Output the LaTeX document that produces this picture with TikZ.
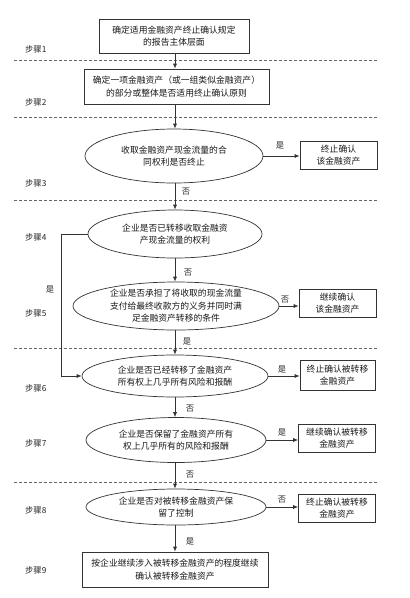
\documentclass[tikz,border=0pt]{standalone}
\usepackage{fontspec}
\setmainfont{Noto Sans CJK SC}
\usetikzlibrary{shapes.geometric,arrows.meta}
\begin{document}
\begin{tikzpicture}[x=1pt,y=-1pt,
  txt/.style={font=\fontsize{8.8}{12.5}\selectfont, text=black!90, align=center},
  sbox/.style={txt, draw=black!80, line width=0.7pt, inner sep=0pt},
  ell/.style={txt, draw=black!80, line width=0.7pt, ellipse, inner sep=0pt},
  rbox/.style={sbox, minimum width=77pt, minimum height=28pt},
  steplbl/.style={font=\fontsize{8.3}{10}\selectfont, text=black!85, anchor=west, inner sep=0pt},
  sep/.style={dashed, draw=black!60, line width=0.6pt, dash pattern=on 3pt off 2pt},
  arr/.style={draw=black!80, line width=0.7pt, -{Latex[length=5pt,width=4pt]}},
  yn/.style={font=\fontsize{8.3}{10}\selectfont, text=black!85, inner sep=1pt}]
\useasboundingbox (0,0) rectangle (410,598);
\fill[white] (0,0) rectangle (410,598);

% separators
\foreach \yy in {60,117,200,348,482} \draw[sep] (14,\yy) -- (377,\yy);

% step labels
\node[steplbl] (s1) at (25,49) {步骤1};
\node[steplbl] (s2) at (25,102) {步骤2};
\node[steplbl] (s3) at (25,183) {步骤3};
\node[steplbl] (s4) at (25,237) {步骤4};
\node[steplbl] (s5) at (25,313) {步骤5};
\node[steplbl] (s6) at (25,388) {步骤6};
\node[steplbl] (s7) at (25,443) {步骤7};
\node[steplbl] (s8) at (25,510) {步骤8};
\node[steplbl] (s9) at (25,570) {步骤9};

% main column
\node[sbox, minimum width=150pt, minimum height=34pt] (b1) at (174,36) {确定适用金融资产终止确认规定\\的报告主体层面};
\node[sbox, minimum width=185pt, minimum height=35pt] (b2) at (176.5,86.5) {确定一项金融资产（或一组类似金融资产）\\的部分或整体是否适用终止确认原则};
\node[ell, minimum width=178pt, minimum height=54pt] (e3) at (174,156) {收取金融资产现金流量的合\\同权利是否终止};
\node[ell, minimum width=174pt, minimum height=48pt] (e4) at (175,234) {企业是否已转移收取金融资\\产现金流量的权利};
\node[ell, minimum width=206pt, minimum height=48pt] (e5) at (176,306) {企业是否承担了将收取的现金流量\\支付给最终收款方的义务并同时满\\足金融资产转移的条件};
\node[ell, minimum width=186pt, minimum height=42pt] (e6) at (175,376) {企业是否已经转移了金融资产\\所有权上几乎所有风险和报酬};
\node[ell, minimum width=180pt, minimum height=45pt] (e7) at (176,440) {企业是否保留了金融资产所有\\权上几乎所有的风险和报酬};
\node[ell, minimum width=180pt, minimum height=36pt] (e8) at (176,507) {企业是否对被转移金融资产保\\留了控制};
\node[sbox, minimum width=186pt, minimum height=35pt] (b9) at (175,569.5) {按企业继续涉入被转移金融资产的程度继续\\确认被转移金融资产};

% right boxes
\node[rbox] (r3) at (338.5,155) {终止确认\\该金融资产};
\node[rbox] (r5) at (337.5,303) {继续确认\\该金融资产};
\node[rbox, minimum width=75pt, minimum height=30pt] (r6) at (337.5,375) {终止确认被转移\\金融资产};
\node[rbox] (r7) at (337,438) {继续确认被转移\\金融资产};
\node[rbox] (r8) at (337,508) {终止确认被转移\\金融资产};

% vertical connectors
\coordinate (cx) at (175,0);
\draw[arr] (b1.south -| cx) -- (b2.north -| cx);
\draw[arr] (b2.south -| cx) -- (e3.north -| cx);
\draw[arr] (e3.south -| cx) -- (e4.north -| cx);
\draw[arr] (e4.south -| cx) -- (e5.north -| cx);
\draw[arr] (e5.south -| cx) -- (e6.north -| cx);
\draw[arr] (e6.south -| cx) -- (e7.north -| cx);
\draw[arr] (e7.south -| cx) -- (e8.north -| cx);
\draw[arr] (e8.south -| cx) -- (b9.north -| cx);

\node[yn] (n3) at (186,192) {否};
\node[yn] (n4) at (188,273) {否};
\node[yn] (y5) at (187,342) {是};
\node[yn] (n6) at (190,409) {否};
\node[yn] (n7) at (190,475) {否};
\node[yn] (y8) at (190,542) {是};

% right connectors
\draw[arr] (e3.east) -- (r3.west |- e3.east);
\draw[arr] (e5.east) -- (r5.west |- e5.east);
\draw[arr] (e6.east) -- (r6.west |- e6.east);
\draw[arr] (e7.east) -- (r7.west |- e7.east);
\draw[arr] (e8.east) -- (r8.west |- e8.east);
\node[yn] (y3) at (280,146) {是};
\node[yn] (n5) at (285,300) {否};
\node[yn] (y6) at (282,370) {是};
\node[yn] (y7) at (282,433) {是};
\node[yn] (n8) at (282,500) {否};

% left bypass
\coordinate (lx) at (61,300);
\draw[arr] (e4.west) -- (e4.west -| lx) |- (e6.west);
\node[yn] (y4) at (50,290) {是};
\end{tikzpicture}
\end{document}
